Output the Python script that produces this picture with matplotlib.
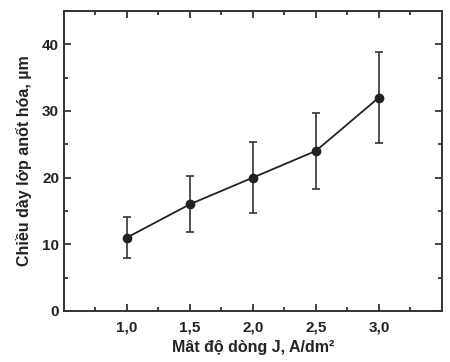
import numpy as np
import matplotlib
matplotlib.use('Agg')
import matplotlib.pyplot as plt
from matplotlib.ticker import MultipleLocator

current = [1.0, 1.5, 2.0, 2.5, 3.0]
thickness = [11, 16, 20, 24, 32]
err = [3.1, 4.2, 5.3, 5.7, 6.8]

plt.rcParams['font.family'] = ['Liberation Sans', 'DejaVu Sans']
plt.rcParams['font.weight'] = 'bold'

fig = plt.figure(figsize=(4.5, 3.62), dpi=100)
ax = fig.add_axes([0.142, 0.141, 0.84, 0.829])

c = '#222222'
ax.errorbar(current, thickness, yerr=err, fmt='-o', color=c, ms=6, lw=1.3,
            elinewidth=1.2, capsize=3, capthick=1.2, ecolor='#333333')

ax.set_xlim(0.5, 3.5)
ax.set_ylim(0, 45)
ax.yaxis.set_major_locator(MultipleLocator(10))
ax.yaxis.set_minor_locator(MultipleLocator(5))
ax.set_xticks([1.0, 1.5, 2.0, 2.5, 3.0])
ax.set_xticks([0.75, 1.25, 1.75, 2.25, 2.75, 3.25], minor=True)
ax.set_xticklabels(['1,0', '1,5', '2,0', '2,5', '3,0'])
ax.tick_params(which='both', direction='in', top=True, right=True, colors=c,
               labelsize=11, width=1.2)
ax.tick_params(axis='x', pad=7)
ax.tick_params(which='major', length=5)
ax.tick_params(which='minor', length=3)
for s in ax.spines.values():
    s.set_linewidth(1.4)
    s.set_color('#333333')

ax.set_xlabel('Mât độ dòng J, A/dm²', fontsize=11.5, fontweight='bold', color=c, labelpad=4)
ax.set_ylabel('Chiều dày lớp anốt hóa, µm', fontsize=11.5, fontweight='bold', color=c, labelpad=7)

fig.savefig('out.png', dpi=100)
